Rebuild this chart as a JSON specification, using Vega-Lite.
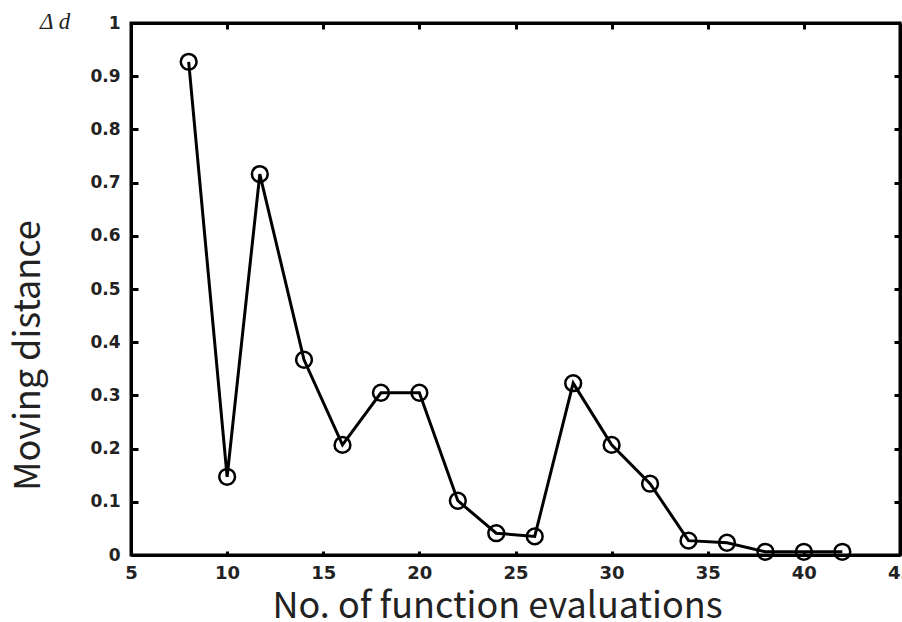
{
  "$schema": "https://vega.github.io/schema/vega-lite/v6.json",
  "width": 769,
  "height": 532,
  "autosize": {"type": "none"},
  "padding": {"left": 131, "top": 23, "right": 2, "bottom": 67},
  "background": "white",
  "config": {
    "view": {"stroke": "black", "strokeWidth": 3},
    "axis": {
      "domainColor": "black",
      "domainWidth": 3,
      "tickColor": "black",
      "tickWidth": 3,
      "grid": false,
      "labelFont": "DejaVu Sans",
      "labelFontWeight": "bold",
      "labelFontSize": 17,
      "labelColor": "#222",
      "labelFlush": false
    }
  },
  "title": {
    "text": "Δ d",
    "anchor": "start",
    "frame": "group",
    "font": "Liberation Serif",
    "fontStyle": "italic",
    "fontWeight": "normal",
    "fontSize": 23,
    "color": "#222",
    "dx": -91,
    "offset": -31,
    "baseline": "middle"
  },
  "data": {
    "values": [
      {"evals": 8, "distance": 0.927},
      {"evals": 10, "distance": 0.147},
      {"evals": 11.7, "distance": 0.716},
      {"evals": 14, "distance": 0.367},
      {"evals": 16, "distance": 0.207},
      {"evals": 18, "distance": 0.305},
      {"evals": 20, "distance": 0.305},
      {"evals": 22, "distance": 0.102},
      {"evals": 24, "distance": 0.041},
      {"evals": 26, "distance": 0.035},
      {"evals": 28, "distance": 0.323},
      {"evals": 30, "distance": 0.207},
      {"evals": 32, "distance": 0.134},
      {"evals": 34, "distance": 0.027},
      {"evals": 36, "distance": 0.023},
      {"evals": 38, "distance": 0.006},
      {"evals": 40, "distance": 0.006},
      {"evals": 42, "distance": 0.006}
    ]
  },
  "layer": [
    {
      "mark": {"type": "line", "color": "black", "strokeWidth": 3},
      "encoding": {
        "x": {
          "field": "evals",
          "type": "quantitative",
          "scale": {"domain": [5, 45], "nice": false, "zero": false},
          "axis": {
            "orient": "bottom",
            "values": [5, 10, 15, 20, 25, 30, 35, 40, 45],
            "tickSize": -4,
            "labelPadding": 13,
            "labelFontSize": 18,
            "title": "No. of function evaluations",
            "titleFont": "Noto Sans CJK JP",
            "titleFontWeight": "normal",
            "titleFontSize": 36,
            "titleColor": "#222",
            "titleX": 366,
            "titleY": 62,
            "titleBaseline": "alphabetic",
            "titleAlign": "center"
          }
        },
        "y": {
          "field": "distance",
          "type": "quantitative",
          "scale": {"domain": [0, 1], "nice": false},
          "axis": {
            "orient": "left",
            "values": [0, 0.1, 0.2, 0.3, 0.4, 0.5, 0.6, 0.7, 0.8, 0.9, 1],
            "labelExpr": "'' + datum.value",
            "tickSize": -7,
            "labelPadding": 18,
            "title": "Moving distance",
            "titleFont": "Noto Sans CJK JP",
            "titleFontWeight": "normal",
            "titleFontSize": 36,
            "titleColor": "#222",
            "titleAngle": 270,
            "titleX": -92,
            "titleY": 332,
            "titleBaseline": "alphabetic",
            "titleAlign": "center"
          }
        }
      }
    },
    {
      "mark": {"type": "point", "shape": "circle", "filled": false, "color": "black", "strokeWidth": 2.5, "size": 250, "opacity": 1},
      "encoding": {
        "x": {
          "field": "evals",
          "type": "quantitative",
          "scale": {"domain": [5, 45], "nice": false, "zero": false},
          "axis": {
            "orient": "top",
            "values": [10, 15, 20, 25, 30, 35, 40],
            "labels": false,
            "tickSize": -6,
            "title": null
          }
        },
        "y": {
          "field": "distance",
          "type": "quantitative",
          "scale": {"domain": [0, 1], "nice": false},
          "axis": {
            "orient": "right",
            "values": [0.1, 0.2, 0.3, 0.4, 0.5, 0.6, 0.7, 0.8, 0.9],
            "labels": false,
            "tickSize": -6,
            "title": null
          }
        }
      }
    }
  ],
  "resolve": {"axis": {"x": "independent", "y": "independent"}}
}
